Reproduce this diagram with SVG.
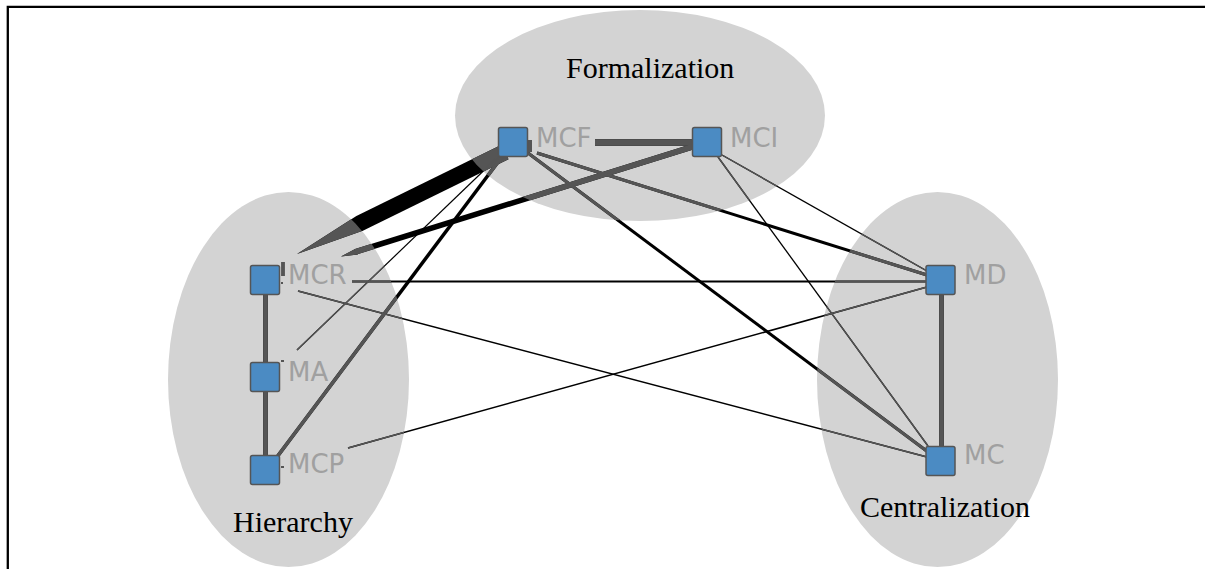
<svg xmlns="http://www.w3.org/2000/svg" xmlns:xlink="http://www.w3.org/1999/xlink" width="1205" height="569" viewBox="0 0 1205 569">
  <style>
    .area { fill: #d3d3d3; }
    .group-label { font-family: "Liberation Serif", "Times New Roman", serif; font-size: 30px; fill: #000; }
    .node rect { fill: #4b8bc3; stroke: #555; stroke-width: 1.5; }
    .node text { font-family: "DejaVu Sans", Tahoma, Verdana, sans-serif; font-size: 26px; fill: #a0a0a0; }
    .edge { stroke: currentColor; fill: none; stroke-linecap: butt; }
    .wedge { fill: currentColor; stroke: none; }
  </style>
  <defs>
    <!-- the three cluster areas; edges inside them are drawn in grey -->
    <clipPath id="areas">
      <ellipse cx="640" cy="115.5" rx="185" ry="105.5"/>
      <ellipse cx="288.5" cy="379.5" rx="120.5" ry="187.5"/>
      <ellipse cx="937.5" cy="379.5" rx="120.5" ry="187.5"/>
    </clipPath>
  </defs>

  <!-- frame -->
  <path d="M7.8,569 V6.8 H1205" fill="none" stroke="#000" stroke-width="2.3"/>

  <!-- cluster areas -->
  <g id="clusters">
    <g id="cluster-formalization">
      <ellipse class="area" cx="640" cy="115.5" rx="185" ry="105.5"/>
      <text class="group-label" x="566" y="78">Formalization</text>
    </g>
    <g id="cluster-hierarchy">
      <ellipse class="area" cx="288.5" cy="379.5" rx="120.5" ry="187.5"/>
      <text class="group-label" x="233" y="532">Hierarchy</text>
    </g>
    <g id="cluster-centralization">
      <ellipse class="area" cx="937.5" cy="379.5" rx="120.5" ry="187.5"/>
      <text class="group-label" x="860" y="517">Centralization</text>
    </g>
  </g>

  <!-- connectors: black outside the areas, grey copy clipped to the areas -->
  <g id="edge-layer" color="#000">
    <g id="connectors">
      <line class="edge" x1="595" y1="142.5" x2="700" y2="142.5" stroke-width="6.5"/>
      <polygon class="wedge" points="297,254 356.4,216 501.5,144.8 508.5,159.2 363.4,230.4"/>
      <line class="edge" x1="695" y1="146" x2="355" y2="252" stroke-width="5.5"/>
      <polygon class="wedge" points="354.2,249.4 357.8,254.6 341,256.5"/>
      <line class="edge" x1="507" y1="150" x2="274" y2="461" stroke-width="3.5"/>
      <line class="edge" x1="500" y1="155" x2="297" y2="350" stroke-width="1.2"/>
      <line class="edge" x1="352" y1="281.5" x2="928" y2="281.5" stroke-width="1.8"/>
      <line class="edge" x1="298" y1="291" x2="927" y2="457" stroke-width="1.5"/>
      <line class="edge" x1="348" y1="448" x2="927" y2="287" stroke-width="1.5"/>
      <line class="edge" x1="537" y1="153" x2="927" y2="275" stroke-width="3"/>
      <line class="edge" x1="528" y1="153" x2="928" y2="452" stroke-width="3"/>
      <line class="edge" x1="722" y1="155" x2="927" y2="271" stroke-width="1.3"/>
      <line class="edge" x1="718" y1="157" x2="928" y2="446" stroke-width="1.3"/>
      <line class="edge" x1="265.5" y1="295" x2="265.5" y2="362" stroke-width="4.5"/>
      <line class="edge" x1="265.5" y1="392" x2="265.5" y2="455" stroke-width="4.5"/>
      <line class="edge" x1="941.5" y1="295" x2="941.5" y2="446" stroke-width="4.5"/>
      <!-- short end ticks beside the nodes -->
      <rect class="wedge" x="281.5" y="262" width="3" height="14"/>
      <rect class="wedge" x="281" y="282" width="2" height="2"/>
      <rect class="wedge" x="528" y="140" width="4" height="12"/>
      <rect class="wedge" x="281" y="360" width="3" height="2"/>
      <rect class="wedge" x="281" y="466" width="3" height="2"/>
    </g>
  </g>
  <use xlink:href="#connectors" href="#connectors" color="#555" clip-path="url(#areas)"/>

  <!-- nodes -->
  <g id="node-MCF" class="node">
    <rect x="498.5" y="127.5" width="29" height="29" rx="2"/>
    <text x="536" y="147">MCF</text>
  </g>
  <g id="node-MCI" class="node">
    <rect x="692.5" y="127.5" width="29" height="29" rx="2"/>
    <text x="730" y="147">MCI</text>
  </g>
  <g id="node-MCR" class="node">
    <rect x="250.5" y="265.5" width="29" height="29" rx="2"/>
    <text x="288" y="284">MCR</text>
  </g>
  <g id="node-MA" class="node">
    <rect x="250.5" y="362.5" width="29" height="29" rx="2"/>
    <text x="288" y="381">MA</text>
  </g>
  <g id="node-MCP" class="node">
    <rect x="250.5" y="455.5" width="29" height="29" rx="2"/>
    <text x="288" y="473">MCP</text>
  </g>
  <g id="node-MD" class="node">
    <rect x="926" y="265.5" width="29" height="29" rx="2"/>
    <text x="964" y="284">MD</text>
  </g>
  <g id="node-MC" class="node">
    <rect x="926" y="446.5" width="29" height="29" rx="2"/>
    <text x="964" y="464">MC</text>
  </g>
</svg>
